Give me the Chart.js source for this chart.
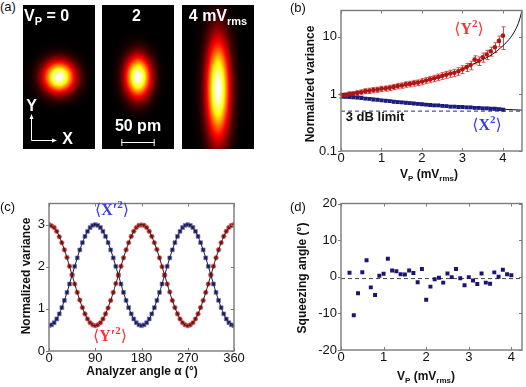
<!DOCTYPE html>
<html>
<head>
<meta charset="utf-8">
<script src="https://cdn.jsdelivr.net/npm/chart.js@4.4.0/dist/chart.umd.min.js"></script>
<style>
  html, body { margin: 0; padding: 0; background: #fff; }
  #fig { position: relative; width: 526px; height: 387px; overflow: hidden; }
  #fig canvas { position: absolute; }
  .tag { position: absolute; font: 13px "Liberation Sans", Arial, sans-serif; color: #111; }
</style>
</head>
<body>
<div id="fig">
  <div class="tag" style="left:0px;top:-1px">(a)</div>
  <canvas id="beam0" width="72" height="144" style="left:23px;top:5px"></canvas>
  <canvas id="beam1" width="72" height="144" style="left:102px;top:5px"></canvas>
  <canvas id="beam2" width="72" height="144" style="left:182px;top:5px"></canvas>
  <canvas id="chartB" width="263" height="193" style="left:263px;top:0px"></canvas>
  <canvas id="chartC" width="263" height="194" style="left:0px;top:193px"></canvas>
  <canvas id="chartD" width="263" height="194" style="left:263px;top:193px"></canvas>
</div>
<script>
const FONT = '"Liberation Sans", Arial, sans-serif';
const SERIF = '"Liberation Serif", "DejaVu Serif", serif';
Chart.defaults.font.family = FONT;

// (a) beam images: normalized variances of X and Y for Vp = 0, 2, 4 mVrms
const beamVarX = [1.0, 0.65, 0.55];
const beamVarY = [1.0, 1.7, 10.0];
const beamCenterY = [0, 0, -18]; // pm
const beamSigma0 = 16;           // pm
const scaleBarPm = 50;

// (b) variance vs pump amplitude
const vp = [0, 0.1, 0.2, 0.3, 0.4, 0.5, 0.6, 0.7, 0.8, 0.9, 1.0, 1.1, 1.2, 1.3, 1.4, 1.5, 1.6, 1.7, 1.8, 1.9,
  2.0, 2.1, 2.2, 2.3, 2.4, 2.5, 2.6, 2.7, 2.8, 2.9, 3.0, 3.1, 3.2, 3.3, 3.4, 3.5, 3.6, 3.7, 3.8, 3.9, 4.0];
const varY = [0.94, 0.95, 0.99, 1.0, 1.04, 1.07, 1.12, 1.14, 1.17, 1.19, 1.23, 1.25, 1.28, 1.33, 1.38, 1.41,
  1.47, 1.5, 1.55, 1.58, 1.65, 1.72, 1.8, 1.88, 1.97, 2.08, 2.18, 2.28, 2.35, 2.5, 2.7, 2.95, 3.2, 4.0, 3.8,
  4.4, 4.9, 5.6, 6.6, 8.5, 10.5];
const errY = [0.09, 0.09, 0.1, 0.1, 0.1, 0.11, 0.11, 0.12, 0.12, 0.12, 0.13, 0.13, 0.14, 0.14, 0.15, 0.15,
  0.16, 0.17, 0.18, 0.18, 0.2, 0.21, 0.23, 0.24, 0.26, 0.28, 0.3, 0.32, 0.35, 0.38, 0.42, 0.48, 0.55, 0.65,
  0.65, 0.8, 0.9, 1.0, 1.3, 1.8, 4.5];
const varX = [0.9, 0.89, 0.88, 0.87, 0.86, 0.85, 0.83, 0.82, 0.8, 0.79, 0.77, 0.76, 0.75, 0.73, 0.72, 0.71,
  0.7, 0.69, 0.68, 0.67, 0.66, 0.65, 0.64, 0.63, 0.63, 0.62, 0.61, 0.6, 0.6, 0.59, 0.59, 0.58, 0.58, 0.57,
  0.57, 0.56, 0.56, 0.55, 0.55, 0.54, 0.53];
const errX = [0.04, 0.04, 0.04, 0.04, 0.04, 0.04, 0.04, 0.04, 0.04, 0.035, 0.035, 0.035, 0.035, 0.035, 0.035,
  0.035, 0.035, 0.035, 0.03, 0.03, 0.03, 0.03, 0.03, 0.03, 0.03, 0.03, 0.03, 0.03, 0.03, 0.03, 0.03, 0.03,
  0.03, 0.03, 0.03, 0.03, 0.03, 0.03, 0.03, 0.03, 0.03];
const fitYx = [0, 0.5, 1, 1.5, 2, 2.5, 3, 3.25, 3.5, 3.75, 4, 4.15, 4.3, 4.4, 4.47];
const fitYv = [1.0, 1.1, 1.23, 1.4, 1.63, 2.0, 2.75, 3.3, 4.0, 5.0, 7.0, 9.0, 13, 19, 29];
const fitXx = [0, 0.5, 1, 1.5, 2, 2.5, 3, 3.5, 4, 4.47];
const fitXv = [0.98, 0.88, 0.8, 0.73, 0.67, 0.63, 0.6, 0.57, 0.54, 0.52];
const limitX = [0, 4.47];
const limitY = [0.5, 0.5];

// (c) variance vs analyzer angle
const angle = [0, 5, 10, 15, 20, 25, 30, 35, 40, 45, 50, 55, 60, 65, 70, 75, 80, 85, 90, 95, 100, 105, 110,
  115, 120, 125, 130, 135, 140, 145, 150, 155, 160, 165, 170, 175, 180, 185, 190, 195, 200, 205, 210, 215,
  220, 225, 230, 235, 240, 245, 250, 255, 260, 265, 270, 275, 280, 285, 290, 295, 300, 305, 310, 315, 320,
  325, 330, 335, 340, 345, 350, 355, 360];
const varYp = [3.00, 2.97, 2.93, 2.84, 2.71, 2.57, 2.40, 2.22, 2.01, 1.81, 1.59, 1.39, 1.21, 1.03, 0.88, 0.76, 0.67, 0.62, 0.60,
  0.62, 0.67, 0.76, 0.88, 1.02, 1.20, 1.39, 1.60, 1.80, 2.01, 2.21, 2.40, 2.57, 2.72, 2.84, 2.93, 2.98, 2.99,
  2.98, 2.93, 2.84, 2.72, 2.57, 2.41, 2.21, 2.00, 1.80, 1.59, 1.40, 1.20, 1.03, 0.88, 0.76, 0.67, 0.62, 0.60,
  0.62, 0.67, 0.76, 0.88, 1.03, 1.20, 1.39, 1.59, 1.81, 2.01, 2.21, 2.40, 2.57, 2.72, 2.84, 2.93, 2.98, 3.00];
const varXp = [0.60, 0.62, 0.67, 0.76, 0.88, 1.03, 1.20, 1.39, 1.59, 1.80, 2.01, 2.21, 2.40, 2.57, 2.72, 2.84, 2.93, 2.98, 3.00,
  2.98, 2.93, 2.84, 2.72, 2.57, 2.40, 2.21, 2.01, 1.80, 1.59, 1.39, 1.20, 1.03, 0.88, 0.76, 0.67, 0.62, 0.60,
  0.62, 0.67, 0.76, 0.88, 1.03, 1.20, 1.39, 1.59, 1.80, 2.01, 2.21, 2.40, 2.57, 2.72, 2.84, 2.93, 2.98, 3.00,
  2.98, 2.93, 2.84, 2.72, 2.57, 2.40, 2.21, 2.01, 1.80, 1.59, 1.39, 1.20, 1.03, 0.88, 0.76, 0.67, 0.62, 0.60];
const fitAngle = [0, 15, 30, 45, 60, 75, 90, 105, 120, 135, 150, 165, 180, 195, 210, 225, 240, 255, 270, 285, 300, 315, 330, 345, 360];
const fitYp = [3.0, 2.84, 2.4, 1.8, 1.2, 0.76, 0.6, 0.76, 1.2, 1.8, 2.4, 2.84, 3.0, 2.84, 2.4, 1.8, 1.2, 0.76, 0.6, 0.76, 1.2, 1.8, 2.4, 2.84, 3.0];
const fitXp = [0.6, 0.76, 1.2, 1.8, 2.4, 2.84, 3.0, 2.84, 2.4, 1.8, 1.2, 0.76, 0.6, 0.76, 1.2, 1.8, 2.4, 2.84, 3.0, 2.84, 2.4, 1.8, 1.2, 0.76, 0.6];

// (d) squeezing angle
const vpD = [0.2, 0.3, 0.4, 0.5, 0.6, 0.7, 0.8, 0.9, 1.0, 1.1, 1.2, 1.3, 1.4, 1.5, 1.6, 1.7, 1.8, 1.9, 2.0, 2.1,
  2.2, 2.3, 2.4, 2.5, 2.6, 2.7, 2.8, 2.9, 3.0, 3.1, 3.2, 3.3, 3.4, 3.5, 3.6, 3.7, 3.8, 3.9, 4.0];
const sqzAngle = [1.1, -10.5, -4.5, 1.25, 4.5, -2.9, -5.0, 0.3, 0.8, 4.9, 1.7, 1.5, 0.7, 0.6, 1.7, 1.0, -1.5,
  2.1, -6.3, -2.7, -0.7, -0.3, -1.6, 0.9, -0.1, 2.1, -0.4, -2.3, -0.1, -1.0, -2.0, 0.9, -1.6, -1.9, 1.2, 0.0,
  1.9, 0.7, 0.4];
const meanX = [0, 4.25];
const meanY = [-0.5, -0.5];

const pts = (xs, ys) => xs.map((x, i) => ({ x, y: ys[i] }));

// rich text: parts = [text, 'sub'|'sup'|'', weightOverride]
function drawRich(ctx, parts, x, y, o) {
  const size = o.size || 12, fam = o.family || FONT;
  const fontFor = (p) => {
    const w = p[2] !== undefined ? p[2] : (o.bold ? 'bold' : 'normal');
    const s = p[1] ? Math.round(size * 0.68) : size;
    return w + ' ' + s + 'px ' + fam;
  };
  let w = 0;
  parts.forEach((p) => { ctx.font = fontFor(p); w += ctx.measureText(p[0]).width; });
  ctx.save();
  ctx.translate(x, y);
  if (o.rotate) ctx.rotate(o.rotate);
  ctx.fillStyle = o.color || '#111';
  ctx.textBaseline = 'middle';
  ctx.textAlign = 'left';
  let cx = o.align === 'left' ? 0 : -w / 2;
  parts.forEach((p) => {
    ctx.font = fontFor(p);
    const dy = p[1] === 'sub' ? size * 0.32 : p[1] === 'sup' ? -size * 0.36 : 0;
    ctx.fillText(p[0], cx, dy);
    cx += ctx.measureText(p[0]).width;
  });
  ctx.restore();
}

function textLayer(items) {
  return {
    id: 'texts',
    afterDraw(chart) {
      items.forEach((it) => drawRich(chart.ctx, it.parts, it.x, it.y, it));
    }
  };
}

// box around the plot with small ticks
const framePlugin = {
  id: 'frame',
  afterDatasetsDraw(chart) {
    const { ctx, chartArea: a, scales } = chart;
    ctx.save();
    ctx.strokeStyle = '#7a7a7a';
    ctx.lineWidth = 1.4;
    ctx.strokeRect(a.left, a.top, a.right - a.left, a.bottom - a.top);
    ctx.lineWidth = 1;
    ctx.beginPath();
    scales.x.ticks.forEach((t) => {
      const px = Math.round(scales.x.getPixelForValue(t.value)) + 0.5;
      ctx.moveTo(px, a.bottom); ctx.lineTo(px, a.bottom - 3);
      ctx.moveTo(px, a.top); ctx.lineTo(px, a.top + 3);
    });
    scales.y.ticks.forEach((t) => {
      const py = Math.round(scales.y.getPixelForValue(t.value)) + 0.5;
      ctx.moveTo(a.left, py); ctx.lineTo(a.left - 3, py);
      ctx.moveTo(a.right, py); ctx.lineTo(a.right - 3, py);
    });
    ctx.stroke();
    ctx.restore();
  }
};

const errorBarPlugin = {
  id: 'errorBars',
  beforeDatasetsDraw(chart) {
    const { ctx, scales: { y } } = chart;
    chart.data.datasets.forEach((ds, i) => {
      if (!ds.errors) return;
      const meta = chart.getDatasetMeta(i);
      ctx.save();
      ctx.strokeStyle = ds.errorColor;
      ctx.lineWidth = 1;
      ctx.beginPath();
      meta.data.forEach((el, j) => {
        const v = ds.data[j].y, e = ds.errors[j];
        const top = y.getPixelForValue(v + e);
        const bot = y.getPixelForValue(Math.max(v - e, y.min));
        const px = Math.round(el.x) + 0.5;
        ctx.moveTo(px, top); ctx.lineTo(px, bot);
        ctx.moveTo(px - 2, top); ctx.lineTo(px + 2, top);
        ctx.moveTo(px - 2, bot); ctx.lineTo(px + 2, bot);
      });
      ctx.stroke();
      ctx.restore();
    });
  }
};

function axisOptions(o) {
  const tickFont = { family: FONT, size: 13, lineHeight: 1 };
  const grid = { display: false, drawTicks: false, tickLength: 0 };
  return {
    responsive: false,
    animation: false,
    events: [],
    layout: { padding: o.padding },
    plugins: { legend: { display: false }, tooltip: { enabled: false } },
    scales: {
      x: {
        type: 'linear', min: o.xMin, max: o.xMax,
        grid, border: { display: false },
        ticks: { font: tickFont, color: '#111', padding: o.xPad || 1, autoSkip: false, maxRotation: 0 },
        afterBuildTicks: (s) => { s.ticks = o.xTicks.map((v) => ({ value: v })); },
        afterFit: (s) => { s.height = o.xHeight; }
      },
      y: {
        type: o.yType || 'linear', min: o.yMin, max: o.yMax,
        grid, border: { display: false },
        ticks: { font: tickFont, color: '#111', padding: o.yPad || 3, autoSkip: false, callback: (v) => String(v) },
        afterBuildTicks: (s) => { s.ticks = o.yTicks.map((v) => ({ value: v })); },
        afterFit: (s) => { s.width = o.yWidth; }
      }
    }
  };
}

// ---------- (a) beam images ----------
function hot(v) {
  return [
    255 * Math.min(1, v / 0.375),
    255 * Math.min(1, Math.max(0, (v - 0.375) / 0.375)),
    255 * Math.min(1, Math.max(0, (v - 0.75) / 0.25))
  ];
}

function beamPlugin(i) {
  return {
    id: 'beam',
    beforeDatasetsDraw(chart) {
      const { ctx, chartArea: a, scales: { x, y } } = chart;
      const w = Math.round(a.right - a.left), h = Math.round(a.bottom - a.top);
      const img = ctx.createImageData(w, h);
      const sx = beamSigma0 * Math.sqrt(beamVarX[i]);
      const sy = beamSigma0 * Math.sqrt(beamVarY[i]);
      for (let r = 0; r < h; r++) {
        const yv = y.getValueForPixel(a.top + r + 0.5) - beamCenterY[i];
        for (let c = 0; c < w; c++) {
          const xv = x.getValueForPixel(a.left + c + 0.5);
          const v = Math.exp(-(xv * xv) / (2 * sx * sx) - (yv * yv) / (2 * sy * sy));
          const [R, G, B] = hot(v);
          const k = 4 * (r * w + c);
          img.data[k] = R; img.data[k + 1] = G; img.data[k + 2] = B; img.data[k + 3] = 255;
        }
      }
      ctx.putImageData(img, a.left, a.top);
    }
  };
}

const beamOverlays = [
  (chart) => {
    const ctx = chart.ctx;
    drawRich(ctx, [['V'], ['P', 'sub'], [' = 0']], 1, 12, { size: 16, bold: true, color: '#fff', align: 'left' });
    drawRich(ctx, [['Y']], 8.5, 102, { size: 16, bold: true, color: '#fff' });
    drawRich(ctx, [['X']], 44.5, 135, { size: 16, bold: true, color: '#fff' });
    ctx.save();
    ctx.strokeStyle = '#fff'; ctx.fillStyle = '#fff'; ctx.lineWidth = 1;
    ctx.beginPath();
    ctx.moveTo(8.5, 112); ctx.lineTo(8.5, 135.5); ctx.lineTo(31, 135.5);
    ctx.stroke();
    ctx.beginPath();
    ctx.moveTo(8.5, 109); ctx.lineTo(6.5, 114); ctx.lineTo(10.5, 114); ctx.closePath();
    ctx.moveTo(34, 135.5); ctx.lineTo(29, 133.5); ctx.lineTo(29, 137.5); ctx.closePath();
    ctx.fill();
    ctx.restore();
  },
  (chart) => {
    const ctx = chart.ctx, x = chart.scales.x;
    drawRich(ctx, [['2']], 34.5, 12, { size: 16, bold: true, color: '#fff' });
    drawRich(ctx, [['50 pm']], 36, 121.5, { size: 16, bold: true, color: '#fff' });
    const x0 = x.getPixelForValue(-scaleBarPm / 2), x1 = x.getPixelForValue(scaleBarPm / 2);
    ctx.save();
    ctx.strokeStyle = '#fff'; ctx.lineWidth = 1;
    ctx.beginPath();
    ctx.moveTo(x0, 137.5); ctx.lineTo(x1, 137.5);
    ctx.moveTo(x0 + 0.5, 134); ctx.lineTo(x0 + 0.5, 141);
    ctx.moveTo(x1 - 0.5, 134); ctx.lineTo(x1 - 0.5, 141);
    ctx.stroke();
    ctx.restore();
  },
  (chart) => {
    drawRich(chart.ctx, [['4 mV'], ['rms', 'sub']], 36, 12, { size: 16, bold: true, color: '#fff' });
  }
];

[0, 1, 2].forEach((i) => {
  new Chart(document.getElementById('beam' + i), {
    type: 'scatter',
    data: { datasets: [{ data: [{ x: 0, y: beamCenterY[i] }], pointRadius: 0 }] },
    options: {
      responsive: false, animation: false, events: [],
      layout: { padding: 0 },
      plugins: { legend: { display: false }, tooltip: { enabled: false } },
      scales: {
        x: { display: false, min: -54, max: 54 },
        y: { display: false, min: -108, max: 108 }
      }
    },
    plugins: [beamPlugin(i), { id: 'overlay', afterDraw: beamOverlays[i] }]
  });
});

// ---------- (b) ----------
new Chart(document.getElementById('chartB'), {
  type: 'scatter',
  data: {
    datasets: [
      { data: pts(vp, varY), errors: errY, errorColor: '#e04848', pointStyle: 'circle', pointRadius: 2.3,
        backgroundColor: '#b01414', borderWidth: 0 },
      { data: pts(vp, varX), errors: errX, errorColor: '#8080e0', pointStyle: 'rect', pointRadius: 2.7,
        backgroundColor: '#1c1c7c', borderWidth: 0 },
      { data: pts(fitYx, fitYv), showLine: true, pointRadius: 0, borderColor: '#111', borderWidth: 1,
        cubicInterpolationMode: 'monotone' },
      { data: pts(fitXx, fitXv), showLine: true, pointRadius: 0, borderColor: '#111', borderWidth: 1,
        cubicInterpolationMode: 'monotone' },
      { data: pts(limitX, limitY), showLine: true, pointRadius: 0, borderColor: '#26268c', borderWidth: 1,
        borderDash: [4, 3] }
    ]
  },
  options: axisOptions({
    padding: { left: 0, top: 3, right: 1, bottom: 0 },
    xMin: 0, xMax: 4.47, xTicks: [0, 1, 2, 3, 4], xHeight: 42,
    yType: 'logarithmic', yMin: 0.1, yMax: 29, yTicks: [0.1, 1, 10], yWidth: 78, yPad: 4
  }),
  plugins: [errorBarPlugin, framePlugin, textLayer([
    { parts: [['(b)']], x: 27, y: 8, size: 13, align: 'left' },
    { parts: [['Normalized variance']], x: 48, y: 84, size: 12, bold: true, rotate: -Math.PI / 2 },
    { parts: [['V'], ['P', 'sub'], [' (mV'], ['rms', 'sub'], [')']], x: 166, y: 175, size: 12, bold: true },
    { parts: [['3 dB limit']], x: 112, y: 117.5, size: 13, bold: true },
    { parts: [['\u27E8', '', 'normal'], ['Y'], ['2', 'sup'], ['\u27E9', '', 'normal']], x: 206, y: 30,
      size: 16, bold: true, family: SERIF, color: '#f03838' },
    { parts: [['\u27E8', '', 'normal'], ['X'], ['2', 'sup'], ['\u27E9', '', 'normal']], x: 224, y: 126,
      size: 16, bold: true, family: SERIF, color: '#3a3af0' }
  ])]
});

// ---------- (c) ----------
new Chart(document.getElementById('chartC'), {
  type: 'scatter',
  data: {
    datasets: [
      { data: pts(fitAngle, fitYp), showLine: true, pointRadius: 0, borderColor: '#222', borderWidth: 1,
        cubicInterpolationMode: 'monotone' },
      { data: pts(fitAngle, fitXp), showLine: true, pointRadius: 0, borderColor: '#222', borderWidth: 1,
        cubicInterpolationMode: 'monotone' },
      { data: pts(angle, varYp), pointStyle: 'circle', pointRadius: 2.3, backgroundColor: '#9c1a1a',
        borderColor: 'rgba(235,110,110,0.9)', borderWidth: 0.8 },
      { data: pts(angle, varXp), pointStyle: 'rect', pointRadius: 2.7, backgroundColor: '#1d1d66',
        borderColor: 'rgba(120,120,205,0.9)', borderWidth: 0.8 }
    ]
  },
  options: axisOptions({
    padding: { left: 0, top: 9, right: 29, bottom: 0 },
    xMin: 0, xMax: 360, xTicks: [0, 90, 180, 270, 360], xHeight: 36,
    yMin: 0, yMax: 3.5, yTicks: [0, 1, 2, 3], yWidth: 49, yPad: 4
  }),
  plugins: [framePlugin, textLayer([
    { parts: [['(c)']], x: 0, y: 14, size: 13, align: 'left' },
    { parts: [['Normalized variance']], x: 27, y: 83, size: 12, bold: true, rotate: -Math.PI / 2 },
    { parts: [['Analyzer angle \u03B1 (\u00B0)']], x: 142, y: 178.5, size: 12, bold: true },
    { parts: [['\u27E8', '', 'normal'], ['X\u2032'], ['2', 'sup'], ['\u27E9', '', 'normal']], x: 112, y: 18,
      size: 16, bold: true, family: SERIF, color: '#3a3af0' },
    { parts: [['\u27E8', '', 'normal'], ['Y\u2032'], ['2', 'sup'], ['\u27E9', '', 'normal']], x: 110, y: 144,
      size: 16, bold: true, family: SERIF, color: '#f03838' }
  ])]
});

// ---------- (d) ----------
new Chart(document.getElementById('chartD'), {
  type: 'scatter',
  data: {
    datasets: [
      { data: pts(vpD, sqzAngle), pointStyle: 'rect', pointRadius: 2.8, backgroundColor: '#1c1470', borderWidth: 0 },
      { data: pts(meanX, meanY), showLine: true, pointRadius: 0, borderColor: '#444', borderWidth: 1,
        borderDash: [4, 3] }
    ]
  },
  options: axisOptions({
    padding: { left: 0, top: 8, right: 1, bottom: 0 },
    xMin: 0, xMax: 4.25, xTicks: [0, 1, 2, 3, 4], xHeight: 37,
    yMin: -20, yMax: 20, yTicks: [-20, -10, 0, 10, 20], yWidth: 78, yPad: 4
  }),
  plugins: [framePlugin, textLayer([
    { parts: [['(d)']], x: 27, y: 14, size: 13, align: 'left' },
    { parts: [['Squeezing angle (\u00B0)']], x: 40, y: 85, size: 12, bold: true, rotate: -Math.PI / 2 },
    { parts: [['V'], ['P', 'sub'], [' (mV'], ['rms', 'sub'], [')']], x: 163, y: 184, size: 12, bold: true }
  ])]
});
</script>
</body>
</html>
